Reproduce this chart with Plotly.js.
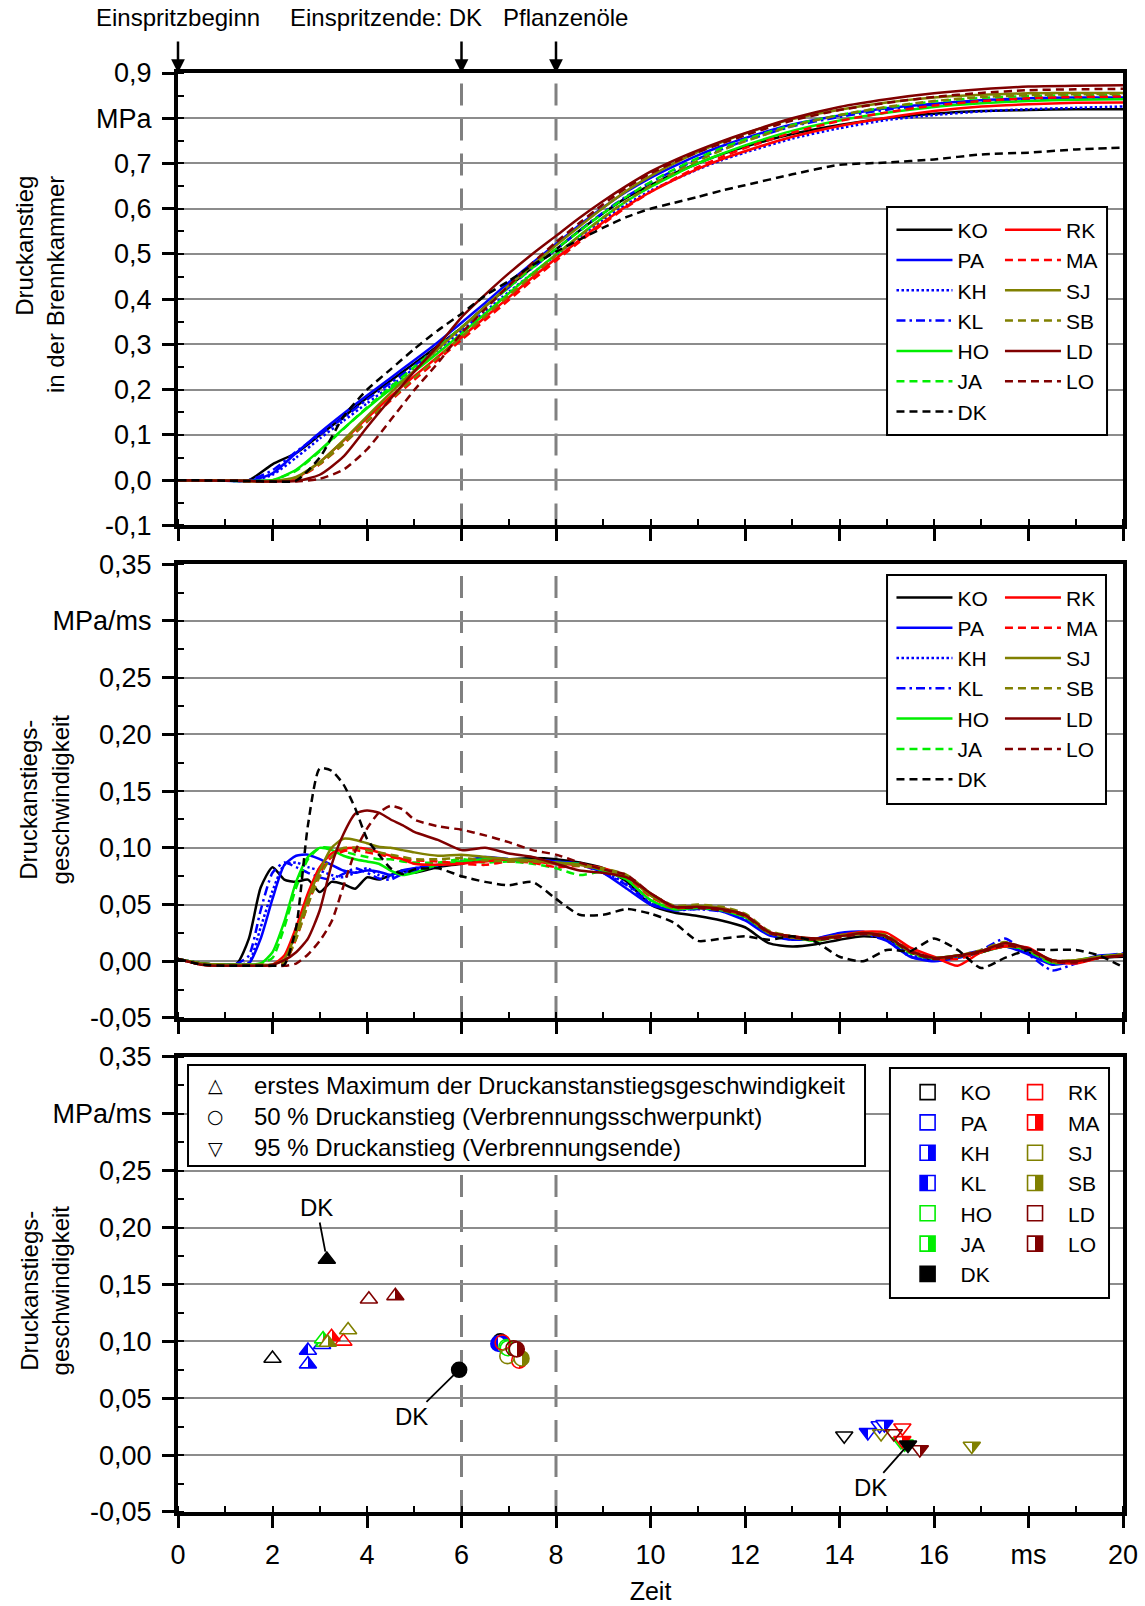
<!DOCTYPE html>
<html><head><meta charset="utf-8">
<script src="https://cdn.plot.ly/plotly-3.0.1.min.js"></script>
<style>html,body{margin:0;padding:0;background:#fff}</style>
</head><body>
<div id="chart" style="width:1145px;height:1606px"></div>
<script>
// ---------- Panel 1: Druckanstieg (MPa) ----------
const tPressure = [0,1,1.5,2,2.5,3,3.5,4,4.5,5,5.5,6,6.5,7,7.5,8,8.5,9,9.5,10,10.5,11,11.5,12,13,14,15,16,17,18,19,20];
const pKO = [0,0,0,0.035,0.06,0.10,0.14,0.182,0.22,0.258,0.297,0.337,0.384,0.428,0.47,0.51,0.552,0.59,0.625,0.652,0.678,0.70,0.72,0.737,0.765,0.785,0.80,0.81,0.816,0.818,0.82,0.82];
const pPA = [0,-0.001,-0.002,0.015,0.06,0.105,0.147,0.187,0.226,0.265,0.305,0.348,0.392,0.437,0.48,0.522,0.564,0.603,0.638,0.668,0.694,0.718,0.738,0.756,0.786,0.806,0.822,0.832,0.84,0.844,0.846,0.846];
const pKH = [0,-0.001,-0.002,0.012,0.05,0.092,0.131,0.17,0.208,0.247,0.288,0.33,0.373,0.416,0.457,0.497,0.538,0.576,0.61,0.64,0.664,0.687,0.707,0.724,0.755,0.778,0.796,0.807,0.815,0.82,0.823,0.826];
const pKL = [0,-0.001,0,0.022,0.063,0.101,0.138,0.178,0.215,0.253,0.294,0.337,0.382,0.426,0.469,0.51,0.552,0.592,0.628,0.658,0.685,0.71,0.731,0.75,0.782,0.803,0.819,0.83,0.837,0.841,0.843,0.844];
const pHO = [0,-0.001,-0.002,0.0,0.023,0.066,0.114,0.159,0.201,0.24,0.281,0.324,0.368,0.413,0.457,0.499,0.541,0.581,0.617,0.648,0.675,0.7,0.721,0.74,0.772,0.795,0.812,0.825,0.833,0.838,0.841,0.842];
const pJA = [0,-0.001,-0.002,0.0,0.021,0.064,0.113,0.161,0.206,0.25,0.294,0.338,0.382,0.426,0.47,0.511,0.551,0.59,0.627,0.659,0.687,0.712,0.734,0.753,0.785,0.807,0.824,0.837,0.845,0.849,0.851,0.852];
const pRK = [0,-0.001,-0.002,-0.003,0.005,0.04,0.087,0.137,0.185,0.23,0.273,0.316,0.36,0.404,0.448,0.49,0.531,0.57,0.606,0.637,0.664,0.688,0.709,0.727,0.759,0.783,0.801,0.816,0.826,0.831,0.834,0.835];
const pMA = [0,-0.001,-0.002,-0.003,0.003,0.035,0.08,0.129,0.176,0.222,0.266,0.31,0.354,0.398,0.442,0.485,0.527,0.567,0.604,0.637,0.666,0.692,0.714,0.734,0.768,0.794,0.813,0.828,0.838,0.844,0.847,0.848];
const pSJ = [0,-0.001,-0.002,-0.002,0.007,0.04,0.088,0.141,0.193,0.242,0.29,0.337,0.384,0.43,0.475,0.519,0.561,0.602,0.64,0.672,0.7,0.725,0.747,0.766,0.798,0.819,0.835,0.846,0.852,0.855,0.856,0.856];
const pSB = [0,-0.001,-0.002,-0.002,0.005,0.036,0.08,0.13,0.179,0.226,0.272,0.317,0.363,0.408,0.453,0.497,0.54,0.58,0.618,0.651,0.68,0.706,0.729,0.749,0.783,0.807,0.825,0.838,0.847,0.851,0.853,0.854];
const pLD = [0,-0.001,-0.002,-0.003,-0.002,0.012,0.052,0.117,0.18,0.24,0.297,0.36,0.41,0.457,0.50,0.54,0.58,0.617,0.651,0.682,0.707,0.729,0.749,0.767,0.80,0.825,0.842,0.855,0.864,0.87,0.872,0.873];
const pLO = [0,-0.001,-0.002,-0.003,-0.003,0.003,0.023,0.068,0.133,0.199,0.259,0.325,0.378,0.43,0.48,0.526,0.569,0.61,0.647,0.678,0.703,0.725,0.744,0.762,0.795,0.818,0.834,0.847,0.856,0.862,0.864,0.865];
const pDK = [0,-0.001,-0.002,-0.003,-0.001,0.05,0.14,0.2,0.245,0.29,0.331,0.368,0.408,0.44,0.475,0.505,0.532,0.558,0.582,0.60,0.613,0.626,0.64,0.652,0.676,0.697,0.702,0.709,0.72,0.724,0.731,0.735];

// ---------- Panel 2: Druckanstiegsgeschwindigkeit (MPa/ms) ----------
const tRate = [0,0.5,1,1.25,1.5,1.75,2,2.25,2.5,2.75,3,3.25,3.5,3.75,4,4.25,4.5,4.75,5,5.5,6,6.5,7,7.5,8,8.5,9,9.5,10,10.5,11,11.5,12,12.5,13,13.5,14,14.5,15,15.5,16,16.5,17,17.5,18,18.5,19,19.5,20];
const rKO = [0.002,-0.002,-0.003,-0.002,0.02,0.065,0.083,0.072,0.07,0.072,0.061,0.07,0.068,0.064,0.074,0.072,0.076,0.08,0.078, 0.083,0.086,0.09,0.09,0.091,0.09,0.087,0.082,0.07,0.05, 0.043,0.04,0.036,0.03,0.016,0.013,0.015,0.019,0.022,0.02,0.008,0.001,0.004,0.009,0.013,0.008,0.0,0.0,0.003,0.004];
const rPA = [0.002,-0.002,-0.003,-0.003,-0.002,0.02,0.055,0.085,0.093,0.094,0.09,0.085,0.08,0.078,0.08,0.079,0.076,0.08,0.082, 0.085,0.088,0.092,0.09,0.089,0.088,0.086,0.078,0.064,0.05, 0.045,0.047,0.044,0.036,0.023,0.019,0.02,0.025,0.026,0.018,0.004,0.0,0.003,0.008,0.013,0.006,-0.003,0.0,0.005,0.006];
const rKH = [0.002,-0.002,-0.003,-0.003,-0.001,0.03,0.062,0.085,0.087,0.083,0.08,0.076,0.074,0.078,0.082,0.076,0.074,0.078,0.082, 0.085,0.087,0.09,0.089,0.088,0.087,0.086,0.079,0.068,0.052, 0.046,0.046,0.045,0.038,0.024,0.02,0.019,0.023,0.025,0.02,0.006,0.001,0.004,0.009,0.014,0.008,-0.002,0.0,0.004,0.006];
const rKL = [0.002,-0.002,-0.003,-0.002,0.005,0.045,0.078,0.087,0.083,0.078,0.074,0.072,0.077,0.082,0.078,0.073,0.072,0.077,0.08, 0.084,0.088,0.091,0.09,0.089,0.088,0.085,0.078,0.067,0.051, 0.045,0.046,0.044,0.038,0.024,0.019,0.02,0.024,0.024,0.018,0.004,0.001,0.005,0.01,0.02,0.006,-0.008,-0.002,0.004,0.007];
const rHO = [0.002,-0.002,-0.003,-0.003,-0.003,-0.002,0.008,0.035,0.07,0.092,0.1,0.098,0.093,0.09,0.088,0.086,0.08,0.076,0.078, 0.085,0.088,0.09,0.09,0.089,0.087,0.086,0.08,0.072,0.054, 0.046,0.047,0.045,0.039,0.025,0.021,0.018,0.022,0.025,0.022,0.008,0.003,0.005,0.008,0.013,0.01,-0.001,0.0,0.004,0.006];
const rJA = [0.002,-0.002,-0.003,-0.003,-0.003,-0.002,0.003,0.03,0.065,0.09,0.1,0.1,0.097,0.094,0.092,0.09,0.09,0.088,0.087, 0.087,0.09,0.087,0.088,0.086,0.082,0.076,0.079,0.072,0.054, 0.046,0.048,0.046,0.04,0.025,0.022,0.018,0.023,0.025,0.021,0.007,0.002,0.004,0.008,0.014,0.009,-0.002,0.001,0.004,0.005];
const rRK = [0.002,-0.003,-0.004,-0.004,-0.004,-0.004,-0.003,0.005,0.03,0.06,0.083,0.095,0.099,0.1,0.099,0.096,0.093,0.09,0.086, 0.085,0.086,0.088,0.09,0.088,0.086,0.085,0.082,0.075,0.058, 0.048,0.048,0.047,0.041,0.026,0.022,0.02,0.023,0.026,0.025,0.012,0.004,-0.004,0.008,0.013,0.012,0.0,-0.002,0.003,0.006];
const rMA = [0.002,-0.003,-0.004,-0.004,-0.004,-0.004,-0.004,-0.002,0.02,0.05,0.078,0.092,0.097,0.098,0.096,0.094,0.092,0.09,0.089, 0.088,0.086,0.085,0.088,0.087,0.083,0.084,0.081,0.074,0.057, 0.047,0.048,0.046,0.04,0.026,0.021,0.019,0.022,0.025,0.023,0.01,0.003,0.002,0.008,0.014,0.011,0.0,-0.001,0.003,0.005];
const rSJ = [0.002,-0.002,-0.003,-0.003,-0.003,-0.003,-0.003,0.002,0.025,0.055,0.08,0.1,0.108,0.107,0.104,0.101,0.1,0.098,0.096, 0.093,0.094,0.092,0.09,0.089,0.087,0.085,0.081,0.075,0.058, 0.048,0.049,0.047,0.041,0.025,0.021,0.019,0.022,0.024,0.022,0.008,0.003,0.005,0.009,0.016,0.01,0.0,0.001,0.004,0.006];
const rSB = [0.002,-0.002,-0.003,-0.003,-0.003,-0.003,-0.003,-0.001,0.02,0.05,0.075,0.092,0.1,0.1,0.098,0.096,0.094,0.092,0.09, 0.09,0.091,0.089,0.088,0.088,0.086,0.084,0.082,0.076,0.06, 0.049,0.05,0.048,0.042,0.027,0.022,0.02,0.023,0.025,0.023,0.009,0.003,0.005,0.01,0.017,0.01,0.001,0.001,0.004,0.006];
const rLD = [0.002,-0.003,-0.004,-0.004,-0.004,-0.004,-0.003,0.001,0.008,0.02,0.045,0.085,0.112,0.13,0.133,0.131,0.125,0.12,0.114, 0.107,0.098,0.1,0.095,0.092,0.086,0.08,0.078,0.074,0.06, 0.048,0.048,0.046,0.041,0.026,0.022,0.02,0.022,0.025,0.022,0.009,0.003,0.005,0.009,0.016,0.011,0.001,0.0,0.003,0.005];
const rLO = [0.002,-0.003,-0.004,-0.004,-0.004,-0.004,-0.004,-0.004,-0.002,0.006,0.018,0.035,0.066,0.097,0.117,0.131,0.137,0.134,0.125, 0.119,0.116,0.111,0.105,0.098,0.094,0.087,0.081,0.076,0.06, 0.048,0.047,0.045,0.04,0.025,0.021,0.019,0.021,0.024,0.021,0.008,0.002,0.004,0.008,0.014,0.01,0.0,-0.001,0.003,0.005];
const rDK = [0.002,-0.003,-0.004,-0.004,-0.004,-0.004,-0.004,-0.003,0.03,0.12,0.17,0.168,0.156,0.135,0.108,0.094,0.082,0.077,0.081, 0.082,0.075,0.07,0.067,0.07,0.055,0.041,0.041,0.046,0.042, 0.034,0.018,0.02,0.022,0.019,0.022,0.017,0.004,0.0,0.01,0.009,0.02,0.01,-0.006,0.003,0.01,0.01,0.01,0.005,-0.005];

// ---------- Panel 3: characteristic points ----------
const materials     = ['KO','PA','KH','KL','HO','JA','RK','MA','SJ','SB','LD','LO','DK'];
const firstMaxTime  = [2.0,3.05,2.75,2.75,3.1,3.07,3.5,3.25,3.6,3.17,4.04,4.6,3.15];
const firstMaxRate  = [0.085,0.097,0.080,0.092,0.099,0.102,0.100,0.104,0.110,0.099,0.137,0.140,0.172];
const halfTime      = [6.82,6.85,6.88,6.78,6.95,6.98,6.87,7.22,6.97,7.27,7.1,7.17,5.95];
const halfRate      = [0.100,0.098,0.097,0.098,0.095,0.094,0.099,0.083,0.087,0.085,0.094,0.093,0.075];
const endTime       = [14.1,14.85,14.95,14.6,15.3,15.38,15.33,15.33,14.88,16.8,15.15,15.7,15.45];
const endRate       = [0.017,0.026,0.027,0.020,0.012,0.010,0.024,0.013,0.019,0.008,0.019,0.005,0.009];

// ---------- ticks / labels ----------
const xTickVals = [0,2,4,6,8,10,12,14,16,18,20];
const xTickText = ['0','2','4','6','8','10','12','14','16','ms','20'];
const pTickVals = [-0.1,0,0.1,0.2,0.3,0.4,0.5,0.6,0.7,0.8,0.9];
const pTickText = ['-0,1','0,0','0,1','0,2','0,3','0,4','0,5','0,6','0,7','MPa','0,9'];
const rTickVals = [-0.05,0,0.05,0.10,0.15,0.20,0.25,0.30,0.35];
const rTickText = ['-0,05','0,00','0,05','0,10','0,15','0,20','0,25','MPa/ms','0,35'];
const arrowTimes = [0,6,8];
const dashedTimes = [6,8];

// ---------- styles ----------
const pressureSeries = {KO:pKO,PA:pPA,KH:pKH,KL:pKL,HO:pHO,JA:pJA,RK:pRK,MA:pMA,SJ:pSJ,SB:pSB,LD:pLD,LO:pLO,DK:pDK};
const rateSeries = {KO:rKO,PA:rPA,KH:rKH,KL:rKL,HO:rHO,JA:rJA,RK:rRK,MA:rMA,SJ:rSJ,SB:rSB,LD:rLD,LO:rLO,DK:rDK};
const lineColor = {KO:'#000000',PA:'#0000ff',KH:'#0000ff',KL:'#0000ff',HO:'#00ee00',JA:'#00ee00',RK:'#ff0000',MA:'#ff0000',SJ:'#808000',SB:'#808000',LD:'#800000',LO:'#800000',DK:'#000000'};
const DASH='8px,5px', DOT='2.5px,2.5px', DASHDOT='9px,4px,2.5px,4px';
const lineDash = {KO:'solid',PA:'solid',KH:DOT,KL:DASHDOT,HO:'solid',JA:DASH,RK:'solid',MA:DASH,SJ:'solid',SB:DASH,LD:'solid',LO:DASH,DK:DASH};
const fillType = {KO:'open',PA:'open',KH:'right',KL:'left',HO:'open',JA:'right',RK:'open',MA:'right',SJ:'open',SB:'right',LD:'open',LO:'right',DK:'full'};
const leftColumn = ['KO','PA','KH','KL','HO','JA','DK'];
const FONT = 'Liberation Sans, Arial, Helvetica, sans-serif';

function markerStyle(m, symbol, size){
  const c = lineColor[m], f = fillType[m];
  const mk = {symbol:symbol, size:size, line:{color:c, width:1.6}};
  if(f==='full') mk.color = c;
  else if(f==='open') mk.color = 'rgba(255,255,255,0)';
  else if(f==='right'){ mk.color = '#ffffff'; mk.gradient = {type:'horizontal', color:c}; }
  else { mk.color = c; mk.gradient = {type:'horizontal', color:'#ffffff'}; }
  return mk;
}

const traces = [];
materials.forEach(m => {
  const left = leftColumn.includes(m);
  traces.push({x:tPressure, y:pressureSeries[m], xaxis:'x', yaxis:'y', type:'scatter', mode:'lines', name:m,
    line:{color:lineColor[m], width:2.5, dash:lineDash[m], shape:'spline', smoothing:0.6},
    legend: left ? 'legend' : 'legend2', hoverinfo:'skip'});
});
materials.forEach(m => {
  const left = leftColumn.includes(m);
  traces.push({x:tRate, y:rateSeries[m], xaxis:'x2', yaxis:'y2', type:'scatter', mode:'lines', name:m,
    line:{color:lineColor[m], width:2.5, dash:lineDash[m], shape:'spline', smoothing:0.6},
    legend: left ? 'legend3' : 'legend4', hoverinfo:'skip'});
});
materials.forEach((m,i) => {
  traces.push({x:[firstMaxTime[i], halfTime[i], endTime[i]], y:[firstMaxRate[i], halfRate[i], endRate[i]],
    xaxis:'x3', yaxis:'y3', type:'scatter', mode:'markers', name:m, showlegend:false,
    marker: markerStyle(m, ['triangle-up','circle','triangle-down'], 15), cliponaxis:false, hoverinfo:'skip'});
});
materials.forEach(m => {
  const left = leftColumn.includes(m);
  traces.push({x:[null], y:[null], xaxis:'x3', yaxis:'y3', type:'scatter', mode:'markers', name:m,
    marker: markerStyle(m, 'square', 15), legend: left ? 'legend5' : 'legend6', hoverinfo:'skip'});
});

const axBase = {showline:true, linewidth:4, linecolor:'#000', mirror:true, ticks:'outside', ticklen:12, tickwidth:3, tickcolor:'#000',
  zeroline:false, tickfont:{family:FONT, size:27, color:'#000'}, fixedrange:true};
function xAx(anchor, labels){
  return Object.assign({}, axBase, {anchor:anchor, range:[0,20], showgrid:false, tickmode:'array', tickvals:xTickVals,
    ticktext:xTickText, showticklabels:labels, ticklabelstandoff:4,
    minor:{tickmode:'linear', tick0:0, dtick:1, ticks:'inside', ticklen:6, tickwidth:2, tickcolor:'#000', showgrid:false}});
}
function yAx(anchor, dom, range, vals, text, minorStep){
  return Object.assign({}, axBase, {anchor:anchor, domain:dom, range:range, showgrid:true, gridcolor:'#8c8c8c', gridwidth:2,
    tickmode:'array', tickvals:vals, ticktext:text, ticklabelstandoff:5,
    minor:{tickmode:'linear', tick0:0, dtick:minorStep, ticks:'inside', ticklen:6, tickwidth:2, tickcolor:'#000', showgrid:false}});
}

const shapes = [];
[['x','y domain'],['x2','y2 domain'],['x3','y3 domain']].forEach(([xr,yr]) => {
  dashedTimes.forEach(t => shapes.push({type:'line', xref:xr, yref:yr, x0:t, x1:t, y0:0, y1:1, layer:'below',
    line:{color:'#808080', width:3, dash:'22px,13px'}}));
});
const boxes = [[0.7503,0.9831,0.7484,0.9069],[0.7503,0.9820,0.4920,0.6511],[0.7534,0.9852,0.1487,0.3085],[0.0106,0.7270,0.2404,0.3106]];
boxes.forEach(b => shapes.push({type:'rect', xref:'paper', yref:'paper', x0:b[0], x1:b[1], y0:b[2], y1:b[3], layer:'above',
  fillcolor:'#ffffff', line:{color:'#000', width:2}}));

const annFont = {family:FONT, size:24, color:'#000'};
const annotations = [];
arrowTimes.forEach(t => annotations.push({x:t, y:0.9, xref:'x', yref:'y', text:'', showarrow:true, ax:0, ay:-33,
  arrowhead:2, arrowsize:1.1, arrowwidth:2.5, arrowcolor:'#000'}));
annotations.push({x:0, y:1.0386, xref:'x', yref:'paper', text:'Einspritzbeginn', showarrow:false, xanchor:'center', yanchor:'middle', font:annFont});
annotations.push({x:6, y:1.0386, xref:'x', yref:'paper', text:'Einspritzende: DK', showarrow:false, xanchor:'right', xshift:22, yanchor:'middle', font:annFont});
annotations.push({x:8, y:1.0386, xref:'x', yref:'paper', text:'Pflanzenöle', showarrow:false, xanchor:'center', xshift:9, yanchor:'middle', font:annFont});
// y titles
annotations.push({x:-0.1465, y:0.9298, xref:'paper', yref:'paper', text:'Druckanstieg<br>in der Brennkammer', textangle:-90, align:'right',
  showarrow:false, xanchor:'center', yanchor:'top', font:annFont});
annotations.push({x:-0.1413, y:0.4955, xref:'paper', yref:'paper', text:'Druckanstiegs-<br>geschwindigkeit', textangle:-90,
  showarrow:false, xanchor:'center', yanchor:'middle', font:annFont});
annotations.push({x:-0.1413, y:0.1543, xref:'paper', yref:'paper', text:'Druckanstiegs-<br>geschwindigkeit', textangle:-90,
  showarrow:false, xanchor:'center', yanchor:'middle', font:annFont});
// symbol key box
annotations.push({x:0.0783, y:0.275, xref:'paper', yref:'paper', xanchor:'left', yanchor:'middle', align:'left', showarrow:false, font:annFont,
  text:'erstes Maximum der Druckanstanstiegsgeschwindigkeit<br>50 % Druckanstieg (Verbrennungsschwerpunkt)<br>95 % Druckanstieg (Verbrennungsende)'});
[['△',0.2967],['○',0.275],['▽',0.2533]].forEach(([s,y]) => annotations.push({x:0.0402, y:y, xref:'paper', yref:'paper', text:s,
  showarrow:false, xanchor:'center', yanchor:'middle', font:{family:'DejaVu Sans', size:19, color:'#000'}}));
// DK labels in bottom panel
const dkIdx = materials.indexOf('DK');
annotations.push({x:firstMaxTime[dkIdx], y:firstMaxRate[dkIdx], xref:'x3', yref:'y3', text:'DK', showarrow:true, ax:-10, ay:-52,
  arrowhead:0, arrowwidth:1.8, arrowcolor:'#000', standoff:8, font:annFont});
annotations.push({x:halfTime[dkIdx], y:halfRate[dkIdx], xref:'x3', yref:'y3', text:'DK', showarrow:true, ax:-48, ay:47,
  arrowhead:0, arrowwidth:1.8, arrowcolor:'#000', standoff:7, font:annFont});
annotations.push({x:endTime[dkIdx], y:endRate[dkIdx], xref:'x3', yref:'y3', text:'DK', showarrow:true, ax:-38, ay:43,
  arrowhead:0, arrowwidth:1.8, arrowcolor:'#000', standoff:5, font:annFont});

const legBase = {bgcolor:'rgba(0,0,0,0)', borderwidth:0, font:{family:FONT, size:21, color:'#000'}, itemwidth:56,
  xanchor:'left', yanchor:'top', orientation:'v', traceorder:'normal', tracegroupgap:0};
const layout = {
  width:1145, height:1606, paper_bgcolor:'#fff', plot_bgcolor:'#fff',
  margin:{l:178, r:22, t:73, b:94},
  font:{family:FONT, color:'#000', size:24},
  showlegend:true,
  xaxis: xAx('y', false),
  xaxis2: xAx('y2', false),
  xaxis3: Object.assign(xAx('y3', true), {title:{text:'Zeit', font:{family:FONT, size:25, color:'#000'}, standoff:14}}),
  yaxis: yAx('x', [0.6856,1], [-0.1,0.9], pTickVals, pTickText, 0.05),
  yaxis2: yAx('x2', [0.3433,0.6586], [-0.05,0.35], rTickVals, rTickText, 0.025),
  yaxis3: yAx('x3', [0,0.3162], [-0.05,0.35], rTickVals, rTickText, 0.025),
  legend:  Object.assign({}, legBase, {x:0.755, y:0.9051}),
  legend2: Object.assign({}, legBase, {x:0.8698, y:0.9051}),
  legend3: Object.assign({}, legBase, {x:0.755, y:0.6496}),
  legend4: Object.assign({}, legBase, {x:0.8698, y:0.6496}),
  legend5: Object.assign({}, legBase, {x:0.7583, y:0.3058}),
  legend6: Object.assign({}, legBase, {x:0.872, y:0.3058}),
  shapes: shapes,
  annotations: annotations
};

// make the two-colour marker gradients sharp (half-filled symbols)
function sharpenGradients(){
  document.querySelectorAll('#chart linearGradient').forEach(g => {
    const stops = g.querySelectorAll('stop');
    if(stops.length !== 2) return;
    const a = stops[0].cloneNode(true), b = stops[1].cloneNode(true);
    a.setAttribute('offset','50%'); b.setAttribute('offset','50%');
    g.insertBefore(a, stops[1]); g.insertBefore(b, stops[1]);
  });
}
Plotly.newPlot('chart', traces, layout, {displayModeBar:false, staticPlot:true}).then(sharpenGradients);
</script></body></html>
